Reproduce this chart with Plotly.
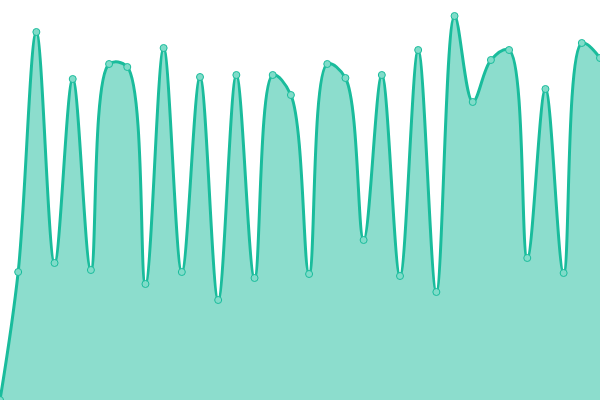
import plotly.graph_objects as go

labels = list(range(34))
values = [0, 128, 368, 137, 321, 130, 336, 333, 116, 352, 128, 323, 100, 325, 122, 325, 305,
          126, 336, 322, 160, 325, 124, 350, 108, 384, 298, 340, 350, 142, 311, 127, 357, 342]

fig = go.Figure()
fig.add_trace(go.Scatter(
    x=labels, y=values, mode="lines+markers",
    line=dict(color="#1abc9c", width=3, shape="spline", smoothing=1.0),
    fill="tozeroy", fillcolor="rgba(26,188,156,0.5)",
    marker=dict(size=7, color="#80dcc9", line=dict(color="#1abc9c", width=1)),
    hoverinfo="skip",
))
fig.update_layout(
    width=600, height=400, margin=dict(l=0, r=0, t=0, b=0),
    paper_bgcolor="white", plot_bgcolor="white", showlegend=False,
    xaxis=dict(visible=False, range=[0, 33]),
    yaxis=dict(visible=False, range=[0, 400]),
)
fig.write_html("out.html", config={"displayModeBar": False},
               post_script="document.body.style.margin='0';document.body.style.padding='0';")
